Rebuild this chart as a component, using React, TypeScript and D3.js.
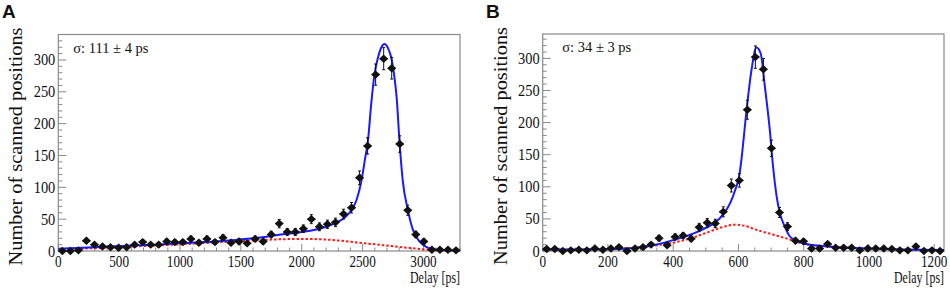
import React from 'react';
import * as d3 from 'd3';

// ---------- Panel A data ----------
const A_X_MAX = 3300;
const A_Y_MAX = 340;
const A_COUNTS = [0, 0, 1, 16, 10, 7, 6, 5, 6, 10, 14, 10, 10, 15, 14, 14, 19, 13, 19, 14, 21, 13, 15, 12, 19, 15, 26, 43, 30, 30, 35, 50, 38, 42, 45, 58, 68, 115, 165, 277, 302, 287, 168, 64, 26, 15, 2, 2, 2, 1];
const A_FIT_T = [0, 200, 400, 600, 800, 1000, 1200, 1400, 1600, 1800, 2000, 2100, 2200, 2300, 2350, 2400, 2450, 2490, 2520, 2545, 2570, 2600, 2625, 2650, 2680, 2710, 2735, 2760, 2780, 2803, 2830, 2871, 2912, 2967, 3021, 3076, 3150, 3300];
const A_FIT_V = [3.5, 5, 7, 8.5, 10, 12, 14, 16.5, 20, 25, 30, 33, 38, 46, 52, 62, 80, 110, 145, 175, 230, 280, 303, 318, 325, 318, 304, 275, 240, 172, 110, 65, 34, 15, 6.6, 3, 1, 0.4];
const A_BKG_T = [0, 300, 600, 900, 1200, 1500, 1700, 1850, 2000, 2150, 2300, 2450, 2600, 2750, 2900, 3000, 3100, 3200, 3300];
const A_BKG_V = [3, 4.5, 7, 9.5, 12.5, 15.5, 17.5, 18.5, 19, 18.5, 16.5, 13.5, 10.5, 7.5, 4.5, 2.5, 1, 0.5, 0.2];
const A_X_TICKS = [0, 500, 1000, 1500, 2000, 2500, 3000];
const A_SIGMA = 'σ: 111 ± 4 ps';

// ---------- Panel B data ----------
const B_X_MAX = 1230;
const B_Y_MAX = 338;
const B_COUNTS = [3, 3, 0, 1, 2, 1, 4, 2, 4, 6, 0, 4, 6, 10, 20, 9, 22, 24, 19, 37, 44, 43, 61, 102, 110, 220, 302, 283, 160, 60, 38, 16, 15, 4, 4, 11, 5, 5, 5, 1, 4, 4, 4, 3, 1, 1, 7, 0, 1, 0];
const B_FIT_T = [0, 100, 200, 250, 300, 350, 400, 450, 500, 530, 553, 575, 590, 604, 609, 625, 640, 655, 668, 681, 696, 706, 717, 727, 742, 757, 773, 798, 850, 900, 1000, 1100, 1230];
const B_FIT_V = [2.5, 2.5, 3, 3.5, 6, 10, 17, 25, 36, 45, 57, 75, 95, 122, 142, 220, 282, 317, 308, 256, 189, 132, 85, 59, 38, 23, 17, 12, 8, 6, 4, 2.5, 1.5];
const B_BKG_T = [0, 100, 200, 300, 350, 400, 450, 500, 550, 589, 620, 655, 706, 757, 798, 860, 950, 1013, 1100, 1230];
const B_BKG_V = [2, 2, 3, 6, 9, 13, 19, 28, 37, 41, 39, 33, 25.6, 18, 11.6, 7.5, 5, 3.4, 2, 1];
const B_X_TICKS = [0, 200, 400, 600, 800, 1000, 1200];
const B_SIGMA = 'σ: 34 ± 3 ps';

const Y_TICKS = [0, 50, 100, 150, 200, 250, 300];

const SERIF = '"Liberation Serif", "DejaVu Serif", serif';
const AXIS_COLOR = '#8a8a8a';

type PanelProps = {
  letter: string;
  letterX: number;
  left: number;
  right: number;
  top: number;
  bottom: number;
  xMax: number;
  yMax: number;
  counts: number[];
  fitT: number[];
  fitV: number[];
  bkgT: number[];
  bkgV: number[];
  xTicks: number[];
  xMinorStep: number;
  sigma: string;
  sigmaDx: number;
};

function Panel(p: PanelProps) {
  const x = d3.scaleLinear().domain([0, p.xMax]).range([p.left, p.right]);
  const y = d3.scaleLinear().domain([0, p.yMax]).range([p.bottom, p.top]);
  const bin = p.xMax / p.counts.length;

  const line = d3
    .line<[number, number]>()
    .x((d) => x(d[0]))
    .y((d) => y(d[1]))
    .curve(d3.curveMonotoneX);

  const fitPath = line(p.fitT.map((t, i) => [t, p.fitV[i]]) as [number, number][]) || '';
  const bkgPath = line(p.bkgT.map((t, i) => [t, p.bkgV[i]]) as [number, number][]) || '';

  const yMinor = d3.range(0, p.yMax + 0.01, 10);
  const xMinor = d3.range(0, p.xMax + 0.01, p.xMinorStep);

  return (
    <g>
      <text x={p.letterX} y={18} fontFamily='"Liberation Sans", Arial, sans-serif' fontWeight="bold" fontSize={19} fill="#111">
        {p.letter}
      </text>
      {/* frame */}
      <rect x={p.left} y={p.top} width={p.right - p.left} height={p.bottom - p.top} fill="white" stroke={AXIS_COLOR} strokeWidth={1.2} />
      {/* y ticks */}
      {yMinor.map((v) => {
        const major = Math.abs(v % 50) < 1e-6;
        return <line key={'ym' + v} x1={p.left} x2={p.left + (major ? 8 : 4)} y1={y(v)} y2={y(v)} stroke={AXIS_COLOR} strokeWidth={1} />;
      })}
      {Y_TICKS.map((v) => (
        <text key={'yl' + v} x={p.left - 3} y={y(v) + 5.5} textAnchor="end" fontFamily={SERIF} fontSize={17} fill="#111" textLength={String(v).length * 7.2} lengthAdjust="spacingAndGlyphs">
          {v}
        </text>
      ))}
      {/* x ticks */}
      {xMinor.map((v) => {
        const major = p.xTicks.some((t) => Math.abs(t - v) < 1e-6);
        return <line key={'xm' + v} x1={x(v)} x2={x(v)} y1={p.bottom} y2={p.bottom - (major ? 7 : 3.5)} stroke={AXIS_COLOR} strokeWidth={1} />;
      })}
      {p.xTicks.map((v) => (
        <text key={'xl' + v} x={x(v)} y={p.bottom + 16} textAnchor="middle" fontFamily={SERIF} fontSize={16.5} fill="#111" textLength={String(v).length * 6.6} lengthAdjust="spacingAndGlyphs">
          {v}
        </text>
      ))}
      {/* axis titles */}
      <text x={p.right} y={p.bottom + 32} textAnchor="end" fontFamily={SERIF} fontSize={16.5} fill="#111" textLength={50} lengthAdjust="spacingAndGlyphs">
        Delay [ps]
      </text>
      <text transform={`translate(${p.left - 36},${p.top - 7}) rotate(-90)`} textAnchor="end" fontFamily={SERIF} fontSize={18} fill="#111" textLength={238} lengthAdjust="spacingAndGlyphs">
        Number of scanned positions
      </text>
      <text x={p.left + p.sigmaDx} y={p.top + 18} fontFamily={SERIF} fontSize={14.5} fill="#111">
        {p.sigma}
      </text>
      {/* background (red dotted) */}
      <path d={bkgPath} fill="none" stroke="#ff1a1a" strokeWidth={2} strokeDasharray="2.5,2" />
      {/* fit (blue) */}
      <path d={fitPath} fill="none" stroke="#1a1aff" strokeWidth={2} />
      {/* data points */}
      {p.counts.map((c, i) => {
        const t = (i + 0.5) * bin;
        const cx = x(t);
        const cy = y(c);
        const err = Math.sqrt(c);
        const y1 = y(c + err);
        const y2 = y(Math.max(0, c - err));
        return (
          <g key={'pt' + i}>
            {err > 0 && (
              <>
                <line x1={cx} x2={cx} y1={y1} y2={y2} stroke="#111" strokeWidth={1} />
                <line x1={cx - 1.5} x2={cx + 1.5} y1={y1} y2={y1} stroke="#111" strokeWidth={1} />
                <line x1={cx - 1.5} x2={cx + 1.5} y1={y2} y2={y2} stroke="#111" strokeWidth={1} />
              </>
            )}
            <line x1={x(t - bin / 2)} x2={x(t + bin / 2)} y1={cy} y2={cy} stroke="#111" strokeWidth={1} />
            <path d={`M${cx},${cy - 4.2}L${cx + 4.5},${cy}L${cx},${cy + 4.2}L${cx - 4.5},${cy}Z`} fill="#111" />
          </g>
        );
      })}
    </g>
  );
}

export default function App() {
  return (
    <svg width={950} height={289} viewBox="0 0 950 289" style={{ position: 'absolute', left: 0, top: 0, background: 'white' }}>
      <rect x={0} y={0} width={950} height={289} fill="white" />
      <Panel
        letter="A"
        letterX={2}
        left={58.3}
        right={460}
        top={34.5}
        bottom={251}
        xMax={A_X_MAX}
        yMax={A_Y_MAX}
        counts={A_COUNTS}
        fitT={A_FIT_T}
        fitV={A_FIT_V}
        bkgT={A_BKG_T}
        bkgV={A_BKG_V}
        xTicks={A_X_TICKS}
        xMinorStep={100}
        sigma={A_SIGMA}
        sigmaDx={15}
      />
      <Panel
        letter="B"
        letterX={486}
        left={542.7}
        right={944}
        top={34}
        bottom={251}
        xMax={B_X_MAX}
        yMax={B_Y_MAX}
        counts={B_COUNTS}
        fitT={B_FIT_T}
        fitV={B_FIT_V}
        bkgT={B_BKG_T}
        bkgV={B_BKG_V}
        xTicks={B_X_TICKS}
        xMinorStep={50}
        sigma={B_SIGMA}
        sigmaDx={19.6}
      />
    </svg>
  );
}
